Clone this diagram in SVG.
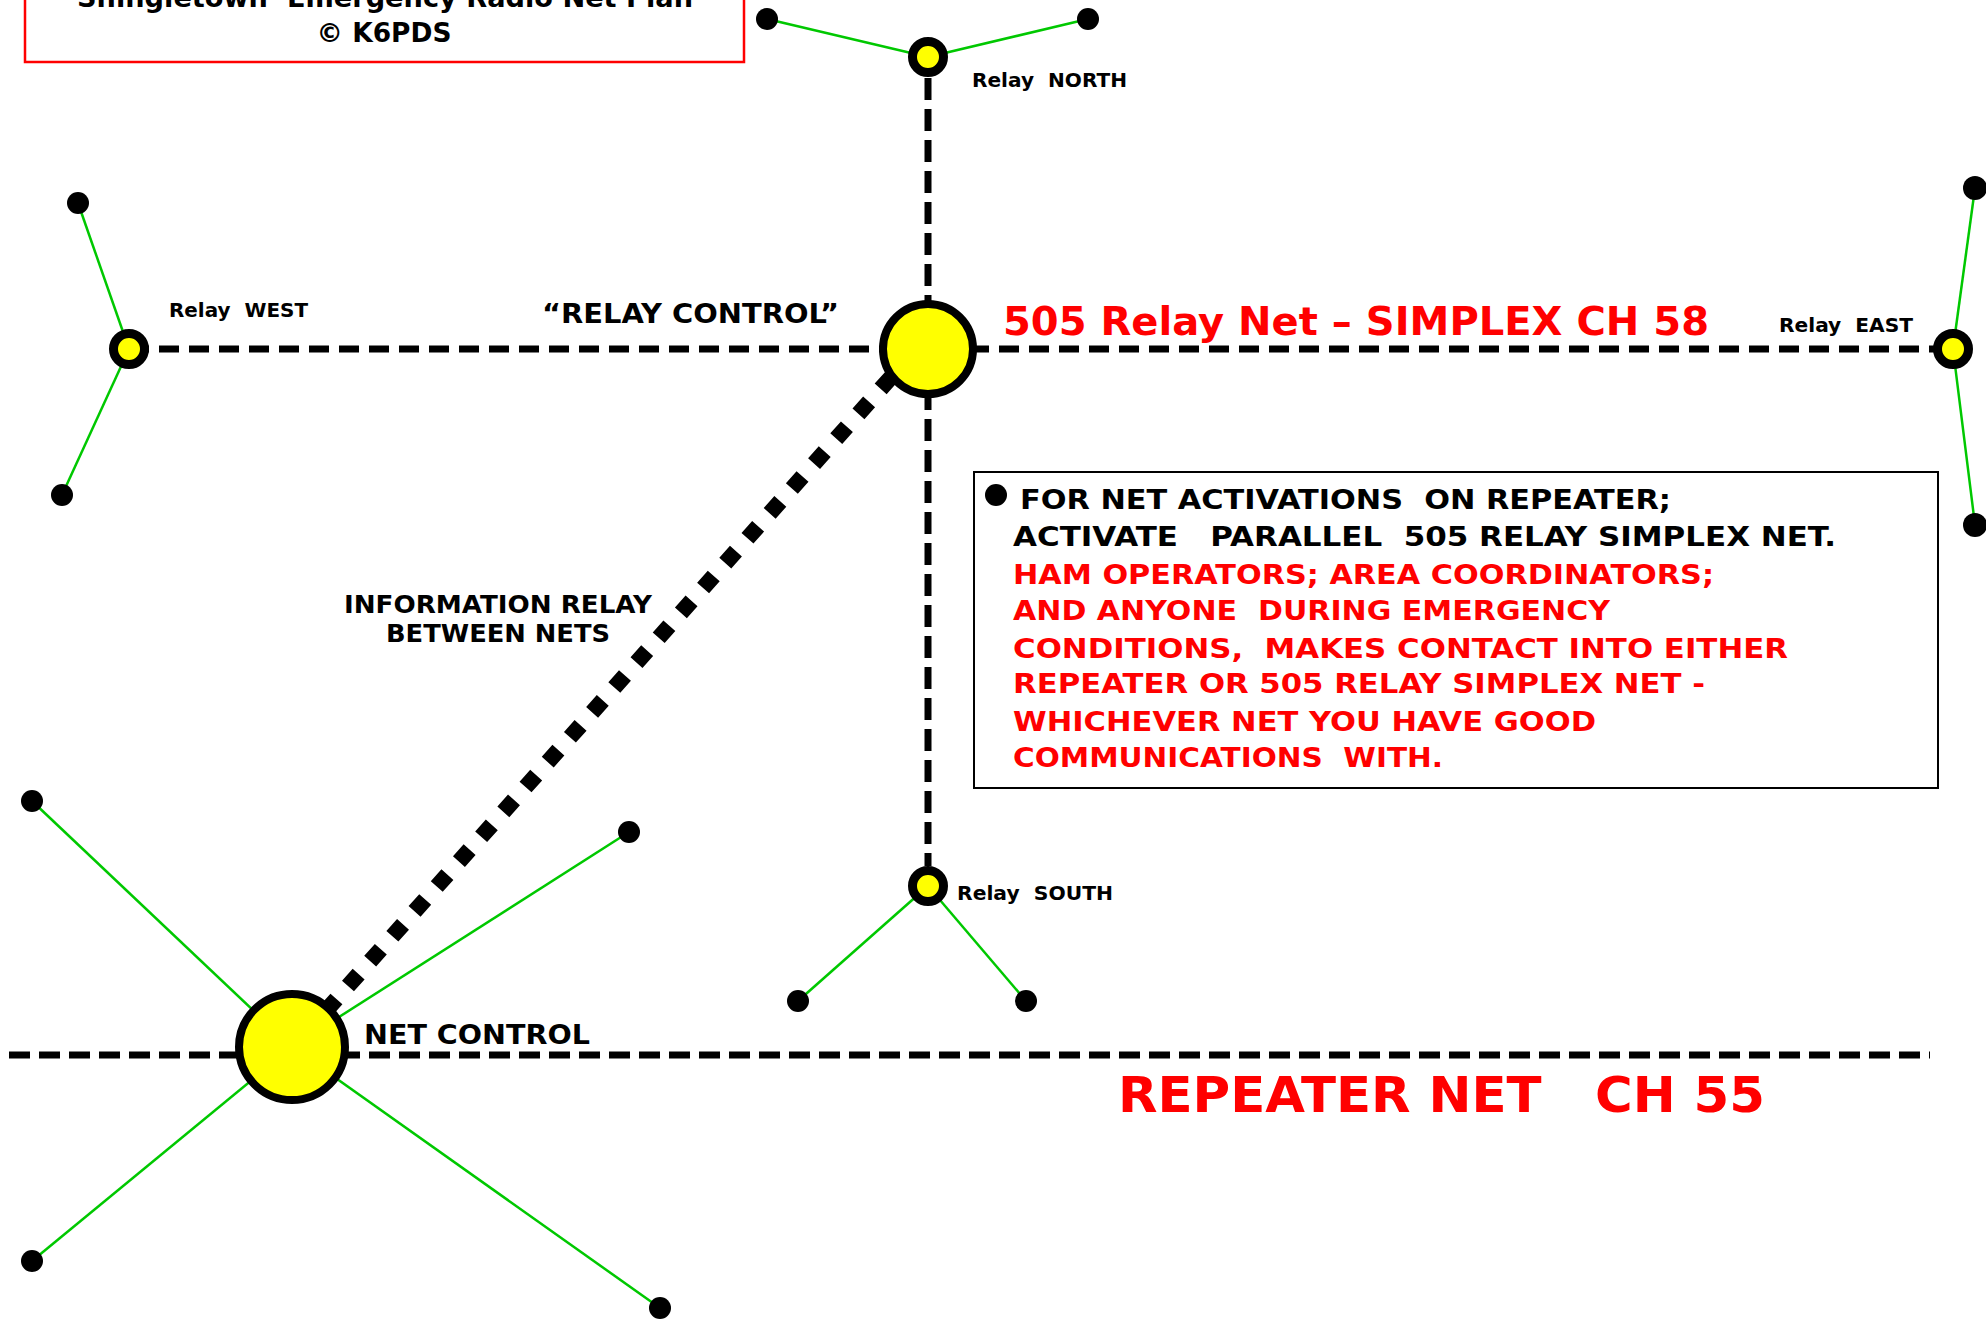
<svg xmlns="http://www.w3.org/2000/svg" width="1986" height="1320" viewBox="0 0 1986 1320" xml:space="preserve">
<style>
.t{font-family:"DejaVu Sans","Liberation Sans",sans-serif;font-weight:bold;fill:#000;white-space:pre}
.r{fill:#ff0000}
.dash{fill:none;stroke:#000;stroke-width:7}
.g{stroke:#00c800;stroke-width:2.5;fill:none}
.node{fill:#ffff00;stroke:#000;stroke-width:8}
.sn{fill:#ffff00;stroke:#000;stroke-width:9}
.dot{fill:#000}
</style>
<rect x="0" y="0" width="1986" height="1320" fill="#fff"/>
<g id="title">
<rect x="25" y="-10" width="719" height="72" fill="none" stroke="#ff0000" stroke-width="2.5"/>
<text class="t" x="385" y="7" font-size="27" text-anchor="middle" textLength="616" lengthAdjust="spacingAndGlyphs">Shingletown  Emergency Radio Net Plan</text>
<text class="t" x="384" y="42" font-size="27" text-anchor="middle" textLength="135" lengthAdjust="spacingAndGlyphs">© K6PDS</text>
</g>
<g id="connectors">
<line class="dash" x1="129" y1="349" x2="1953" y2="349" stroke-dasharray="20 10"/>
<line class="dash" x1="928" y1="78" x2="928" y2="866" stroke-dasharray="22 9"/>
<line class="dash" x1="9" y1="1055" x2="1930" y2="1055" stroke-dasharray="21 9"/>
<line x1="891.3" y1="377" x2="325.7" y2="1011" stroke="#000" stroke-width="16" stroke-dasharray="16 17.34"/>
<line class="g" x1="928" y1="57" x2="767" y2="19"/>
<line class="g" x1="928" y1="57" x2="1088" y2="19"/>
<line class="g" x1="129" y1="349" x2="78" y2="203"/>
<line class="g" x1="129" y1="349" x2="62" y2="495"/>
<line class="g" x1="1953" y1="349" x2="1975" y2="188"/>
<line class="g" x1="1953" y1="349" x2="1975" y2="525"/>
<line class="g" x1="928" y1="886" x2="798" y2="1001"/>
<line class="g" x1="928" y1="886" x2="1026" y2="1001"/>
<line class="g" x1="292" y1="1047" x2="32" y2="801"/>
<line class="g" x1="292" y1="1047" x2="629" y2="832"/>
<line class="g" x1="292" y1="1047" x2="32" y2="1261"/>
<line class="g" x1="292" y1="1047" x2="660" y2="1308"/>
</g>
<g id="stations">
<circle class="dot" cx="767" cy="19" r="11"/>
<circle class="dot" cx="1088" cy="19" r="11"/>
<circle class="dot" cx="78" cy="203" r="11"/>
<circle class="dot" cx="62" cy="495" r="11"/>
<circle class="dot" cx="1975" cy="188" r="12"/>
<circle class="dot" cx="1975" cy="525" r="12"/>
<circle class="dot" cx="798" cy="1001" r="11"/>
<circle class="dot" cx="1026" cy="1001" r="11"/>
<circle class="dot" cx="32" cy="801" r="11"/>
<circle class="dot" cx="629" cy="832" r="11"/>
<circle class="dot" cx="32" cy="1261" r="11"/>
<circle class="dot" cx="660" cy="1308" r="11"/>
</g>
<g id="relay-control">
<circle class="node" cx="928" cy="349" r="45"/>
<text class="t" x="542" y="323" font-size="27" textLength="297" lengthAdjust="spacingAndGlyphs">“RELAY CONTROL”</text>
</g>
<g id="relay-north">
<circle class="sn" cx="928" cy="57" r="15.5"/>
<text class="t" x="972" y="87" font-size="19" textLength="155" lengthAdjust="spacingAndGlyphs">Relay  NORTH</text>
</g>
<g id="relay-west">
<circle class="sn" cx="129" cy="349" r="15.5"/>
<text class="t" x="169" y="317" font-size="19" textLength="139" lengthAdjust="spacingAndGlyphs">Relay  WEST</text>
</g>
<g id="relay-east">
<circle class="sn" cx="1953" cy="349" r="15.5"/>
<text class="t" x="1779" y="332" font-size="19" textLength="134" lengthAdjust="spacingAndGlyphs">Relay  EAST</text>
</g>
<g id="relay-south">
<circle class="sn" cx="928" cy="886" r="15.5"/>
<text class="t" x="957" y="900" font-size="19" textLength="156" lengthAdjust="spacingAndGlyphs">Relay  SOUTH</text>
</g>
<g id="net-control">
<circle class="node" cx="292" cy="1047" r="53"/>
<text class="t" x="364" y="1044" font-size="27" textLength="226" lengthAdjust="spacingAndGlyphs">NET CONTROL</text>
</g>
<g id="labels">
<text class="t r" x="1003" y="335" font-size="39" textLength="706" lengthAdjust="spacingAndGlyphs">505 Relay Net – SIMPLEX CH 58</text>
<text class="t" x="498" y="613" font-size="24" text-anchor="middle" textLength="308" lengthAdjust="spacingAndGlyphs">INFORMATION RELAY</text>
<text class="t" x="498" y="642" font-size="24" text-anchor="middle" textLength="224" lengthAdjust="spacingAndGlyphs">BETWEEN NETS</text>
<text class="t r" x="1118" y="1112" font-size="49" textLength="647" lengthAdjust="spacingAndGlyphs">REPEATER NET   CH 55</text>
</g>
<g id="note">
<rect x="974" y="472" width="964" height="316" fill="none" stroke="#000" stroke-width="2"/>
<circle class="dot" cx="996" cy="495" r="11"/>
<text class="t" x="1020" y="509" font-size="27" textLength="651" lengthAdjust="spacingAndGlyphs">FOR NET ACTIVATIONS  ON REPEATER;</text>
<text class="t" x="1013" y="546" font-size="27" textLength="823" lengthAdjust="spacingAndGlyphs">ACTIVATE   PARALLEL  505 RELAY SIMPLEX NET.</text>
<text class="t r" x="1013" y="584" font-size="27" textLength="701" lengthAdjust="spacingAndGlyphs">HAM OPERATORS; AREA COORDINATORS;</text>
<text class="t r" x="1013" y="620" font-size="27" textLength="597" lengthAdjust="spacingAndGlyphs">AND ANYONE  DURING EMERGENCY</text>
<text class="t r" x="1013" y="658" font-size="27" textLength="775" lengthAdjust="spacingAndGlyphs">CONDITIONS,  MAKES CONTACT INTO EITHER</text>
<text class="t r" x="1013" y="693" font-size="27" textLength="692" lengthAdjust="spacingAndGlyphs">REPEATER OR 505 RELAY SIMPLEX NET -</text>
<text class="t r" x="1013" y="731" font-size="27" textLength="583" lengthAdjust="spacingAndGlyphs">WHICHEVER NET YOU HAVE GOOD</text>
<text class="t r" x="1013" y="767" font-size="27" textLength="430" lengthAdjust="spacingAndGlyphs">COMMUNICATIONS  WITH.</text>
</g>
</svg>
